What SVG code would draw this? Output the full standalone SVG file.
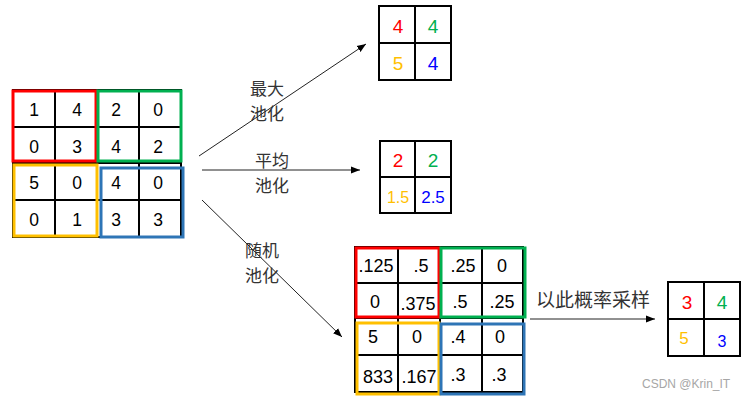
<svg xmlns="http://www.w3.org/2000/svg" width="743" height="400" viewBox="0 0 743 400">
<defs>
<style>
.g{stroke:#000;stroke-width:2;fill:none}
.bx{fill:none;stroke-width:3}
.n{font-family:"Liberation Sans",Arial,sans-serif;text-anchor:middle;fill:#000}
.cn{font-family:"Noto Sans CJK SC",sans-serif;fill:#333;font-size:17px}
.cn.big{font-size:19px}
.c{stroke:#222;stroke-width:1;fill:none}
.red{stroke:#ff0000}.grn{stroke:#00b050}.yel{stroke:#ffc000}.blu{stroke:#2e75b6}
</style>
<marker id="ah" viewBox="0 0 10 10" refX="10" refY="5" markerWidth="9" markerHeight="9" markerUnits="userSpaceOnUse" orient="auto">
<path d="M0,1 L10,5 L0,9 z" fill="#000"/>
</marker>
</defs>
<rect width="743" height="400" fill="#fff"/>

<g id="grid-input">
<path class="g" d="M13,90H181V237H13Z M55,90V237 M97,90V237 M139,90V237 M13,127H181 M13,163H181 M13,200H181"/>
<rect class="bx red" x="13" y="91" width="83" height="70"/>
<rect class="bx grn" x="98" y="91" width="83" height="70"/>
<rect class="bx yel" x="14" y="165" width="83" height="71"/>
<rect class="bx blu" x="101" y="168" width="82" height="69"/>
<g class="n" font-size="17.5">
<text x="34" y="116">1</text><text x="77" y="116">4</text><text x="116" y="116">2</text><text x="158" y="116">0</text>
<text x="34" y="153">0</text><text x="77" y="153">3</text><text x="116" y="153">4</text><text x="158" y="153">2</text>
<text x="34" y="189">5</text><text x="77" y="189">0</text><text x="116" y="189">4</text><text x="158" y="189">0</text>
<text x="34" y="226">0</text><text x="77" y="226">1</text><text x="116" y="226">3</text><text x="158" y="226">3</text>
</g>
</g>

<g id="grid-max">
<path class="g" d="M379,6H451V80H379Z M415,6V80 M379,43H451"/>
<g class="n" font-size="19">
<text x="398" y="33" fill="#ff0000">4</text><text x="433" y="33" fill="#00b050">4</text>
<text x="398" y="70" fill="#ffc000">5</text><text x="433" y="70" fill="#0000ff">4</text>
</g>
</g>

<g id="grid-avg">
<path class="g" d="M380,141H451V213H380Z M415,141V213 M380,177H451"/>
<g class="n">
<text x="398" y="167" font-size="19" fill="#ff0000">2</text><text x="433" y="167" font-size="19" fill="#00b050">2</text>
<text x="398" y="203" font-size="16" fill="#ffc000">1.5</text><text x="433" y="203" font-size="17" fill="#0000ff">2.5</text>
</g>
</g>

<g id="grid-stoch">
<path class="g" d="M355,247H523V392H355Z M398,247V392 M440,247V392 M482,247V392 M355,283H523 M355,318H523 M355,355H523"/>
<rect class="bx red" x="356" y="248" width="83" height="69"/>
<rect class="bx grn" x="441" y="248" width="84" height="69"/>
<rect class="bx yel" x="357" y="323" width="82" height="71"/>
<rect class="bx blu" x="441" y="324" width="83" height="70"/>
<g class="n" font-size="18">
<text x="376" y="272">.125</text><text x="421" y="272">.5</text><text x="463" y="272">.25</text><text x="502" y="272">0</text>
<text x="375" y="308">0</text><text x="418" y="310">.375</text><text x="460" y="308">.5</text><text x="502" y="308">.25</text>
<text x="373" y="343">5</text><text x="417" y="343">0</text><text x="458" y="343">.4</text><text x="500" y="343">0</text>
<text x="378" y="383">833</text><text x="419" y="383">.167</text><text x="458" y="381">.3</text><text x="499" y="381">.3</text>
</g>
</g>

<g id="grid-sample">
<path class="g" d="M668,282H740V356H668Z M704,282V356 M668,319H740"/>
<g class="n">
<text x="687" y="309" font-size="19" fill="#ff0000">3</text><text x="722" y="309" font-size="19" fill="#00b050">4</text>
<text x="684" y="344" font-size="17" fill="#ffc000">5</text><text x="722" y="347" font-size="16" fill="#0000ff">3</text>
</g>
</g>

<g id="connectors">
<line class="c" x1="199" y1="156" x2="366" y2="44" marker-end="url(#ah)"/>
<line class="c" x1="202" y1="170" x2="360" y2="170" marker-end="url(#ah)"/>
<line class="c" x1="202" y1="200" x2="342" y2="337" marker-end="url(#ah)"/>
<line class="c" x1="530" y1="319" x2="655" y2="319" marker-end="url(#ah)"/>
</g>

<g id="labels">
<text class="cn" x="250" y="95">最大</text>
<text class="cn" x="250" y="120">池化</text>
<text class="cn" x="255" y="167">平均</text>
<text class="cn" x="255" y="192">池化</text>
<text class="cn" x="245" y="257">随机</text>
<text class="cn" x="245" y="282">池化</text>
<text class="cn big" x="536" y="307">以此概率采样</text>
</g>

<text x="642" y="388" font-family="Liberation Sans,Arial,sans-serif" font-size="12" fill="#a6a6a6">CSDN @Krin_IT</text>
</svg>
